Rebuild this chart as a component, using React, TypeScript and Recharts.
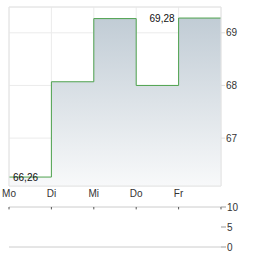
import React from 'react';
import {
  ComposedChart,
  Area,
  XAxis,
  YAxis,
  CartesianGrid,
  ReferenceArea,
  ReferenceLine,
  LabelList,
} from 'recharts';

const days = ['Mo', 'Di', 'Mi', 'Do', 'Fr'];
const prices = [66.26, 68.07, 69.27, 68.0, 69.28];
const priceTicks = [67, 68, 69];
const volumeTicks = [0, 5, 10];
const volumes: number[] = [];

const priceDomain: [number, number] = [66.09, 69.49];
const dayTicks = [0, 1, 2, 3, 4];
const volumeDayTicks = [0, 1, 2, 3, 4, 5];

// step-after line, last value is held until the end of the week
const priceData = [
  ...prices.map((p, i) => ({ x: i, price: p })),
  { x: prices.length, price: prices[prices.length - 1] },
];
const volumeData = volumeDayTicks.map((d) => ({ x: d, vol: volumes[d] ?? 0 }));

const maxIdx = prices.indexOf(Math.max(...prices));
const minIdx = prices.indexOf(Math.min(...prices));

const font = 'Arial, "Liberation Sans", sans-serif';
const fmt = (v: number) => v.toFixed(2).replace('.', ',');

const MinMaxLabel = (props: any) => {
  const { x, y, index, value } = props;
  if (index !== maxIdx && index !== minIdx) return null;
  const isMax = index === maxIdx;
  return (
    <text
      x={isMax ? x - 4 : x + 4}
      y={y}
      dy="0.35em"
      textAnchor={isMax ? 'end' : 'start'}
      fontSize={10}
      fontFamily={font}
      fill="#111"
    >
      {fmt(value)}
    </text>
  );
};

export default function App() {
  return (
    <div style={{ position: 'absolute', left: 0, top: 0, width: 264, height: 255, background: '#fff' }}>
      <div style={{ position: 'absolute', left: 0, top: 0 }}>
        <ComposedChart
          width={264}
          height={202}
          data={priceData}
          margin={{ top: 7, right: 0, bottom: 0, left: 9 }}
        >
          <defs>
            <linearGradient id="priceFill" x1="0" y1="0" x2="0" y2="1">
              <stop offset="0%" stopColor="#c1ccd5" />
              <stop offset="100%" stopColor="#f8f9fa" />
            </linearGradient>
          </defs>
          <CartesianGrid stroke="#ebebeb" />
          <XAxis
            dataKey="x"
            type="number"
            domain={[0, 5]}
            ticks={dayTicks}
            tickFormatter={(v: number) => days[v] ?? ''}
            interval={0}
            axisLine={false}
            tickLine={false}
            tickSize={4}
            tickMargin={0}
            height={16}
            tick={{ fontSize: 10, fontFamily: font, fill: '#333' }}
          />
          <YAxis
            orientation="right"
            type="number"
            domain={priceDomain}
            ticks={priceTicks}
            allowDataOverflow
            width={43}
            axisLine={false}
            tickLine={{ stroke: '#ddd' }}
            tickSize={4}
            tickMargin={1}
            tick={{ fontSize: 10, fontFamily: font, fill: '#333', textAnchor: 'start' }}
          />
          <Area
            type="stepAfter"
            dataKey="price"
            stroke="#4ea24e"
            strokeWidth={1}
            fill="url(#priceFill)"
            fillOpacity={1}
            baseValue="dataMin"
            dot={false}
            activeDot={false}
            isAnimationActive={false}
          >
            <LabelList dataKey="price" content={MinMaxLabel} />
          </Area>
          <ReferenceArea
            x1={0}
            x2={5}
            y1={priceDomain[0]}
            y2={priceDomain[1]}
            fill="none"
            stroke="#e4e4e4"
          />
        </ComposedChart>
      </div>
      <div style={{ position: 'absolute', left: 0, top: 195 }}>
        <ComposedChart
          width={264}
          height={60}
          data={volumeData}
          margin={{ top: 12, right: 0, bottom: 8, left: 9 }}
        >
          <CartesianGrid stroke="#cccccc" vertical={false} />
          <XAxis dataKey="x" type="number" domain={[0, 5]} hide />
          <YAxis
            orientation="right"
            type="number"
            domain={[0, 10]}
            ticks={volumeTicks}
            width={43}
            axisLine={false}
            tickLine={{ stroke: '#999' }}
            tickSize={5}
            tickMargin={1}
            tick={{ fontSize: 10, fontFamily: font, fill: '#333', textAnchor: 'start' }}
          />
          {volumeDayTicks.map((d) => (
            <ReferenceLine
              key={d}
              segment={[
                { x: d, y: 10 },
                { x: d, y: 9.4 },
              ]}
              stroke="#555"
            />
          ))}
          <Area
            dataKey="vol"
            stroke="none"
            fill="none"
            dot={false}
            activeDot={false}
            isAnimationActive={false}
          />
        </ComposedChart>
      </div>
    </div>
  );
}
